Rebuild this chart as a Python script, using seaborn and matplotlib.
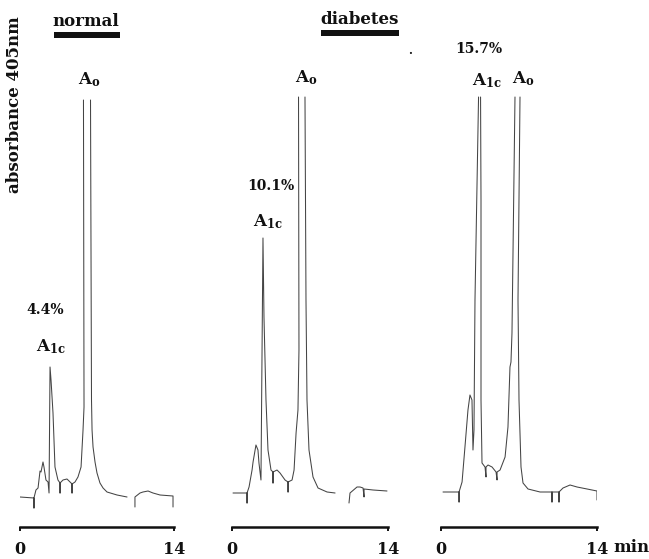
import numpy as np
import pandas as pd
import matplotlib
matplotlib.use("Agg")
import matplotlib.pyplot as plt
import seaborn as sns
from matplotlib.patches import Rectangle

# ---------------- data (time in min, recorder signal in arbitrary units) ----------------
# Panel 1: normal (A1c 4.4 %)
normal_t = [0.0, 1.27, 1.27, 1.27, 1.45, 1.64, 1.82, 1.91, 2.09, 2.18, 2.36, 2.55, 2.64, 2.73, 2.82,
            3.0, 3.18, 3.45, 3.64, 3.64, 3.64, 3.91, 4.27, 4.55, 4.73, 4.73, 4.73, 5.0, 5.27, 5.55,
            5.73, 5.82, 5.77,
            6.41, 6.5, 6.55, 6.64, 6.82, 7.0, 7.27, 7.55, 7.91, 8.82, 9.73,
            10.45, 10.45, 10.91, 11.18, 11.64, 12.09, 12.73, 13.91, 13.91]
normal_s = [3, 2, -8, 2, 10, 12, 29, 28, 38, 33, 20, 18, 7, 133, 120,
            87, 33, 20, 17, 7, 17, 20, 21, 18, 16, 7, 16, 18, 23, 33,
            70, 93, 400,
            400, 100, 70, 53, 38, 27, 17, 12, 8, 5, 3,
            -7, 3, 7, 8, 9, 7, 5, 4, -7]
normal_seg = [0] * 33 + [1] * 11 + [2] * 9

# Panel 2: diabetes (A1c 10.1 %)
diab1_t = [0.09, 1.35, 1.35, 1.35, 1.53, 1.80, 1.89, 2.15, 2.33, 2.42, 2.60, 2.78, 2.87, 3.05, 3.23,
           3.50, 3.68, 3.68, 3.68, 4.04, 4.31, 4.76, 5.03, 5.03, 5.03, 5.39, 5.57, 5.75, 5.92, 6.01,
           5.97,
           6.55, 6.64, 6.73, 6.91, 7.27, 7.72, 8.53, 9.25,
           10.50, 10.59, 11.22, 11.49, 11.76, 11.85, 11.85, 12.66, 13.91]
diab1_s = [7, 7, -3, 7, 13, 30, 38, 55, 50, 37, 20, 262, 183, 100, 50,
           30, 28, 17, 28, 30, 27, 20, 18, 8, 18, 20, 30, 67, 90, 150,
           403,
           403, 200, 100, 50, 23, 12, 8, 7,
           -3, 7, 13, 13, 12, 3, 11, 10, 9]
diab1_seg = [0] * 31 + [1] * 8 + [2] * 9

# Panel 3: diabetes (A1c 15.7 %)
diab2_t = [0.18, 1.62, 1.62, 1.62, 1.89, 2.15, 2.42, 2.60, 2.78, 2.87, 2.96, 3.05, 3.37,
           3.55, 3.59, 3.59, 3.68, 3.95, 4.04, 4.04, 4.22, 4.58, 4.94, 5.03, 5.03, 5.30, 5.75,
           6.01, 6.19, 6.28, 6.37, 6.64,
           7.09, 6.91, 7.0, 7.18, 7.36, 7.81, 8.89, 9.96, 9.96, 9.96, 10.59, 10.59, 10.59, 10.95,
           11.58, 12.21, 13.11, 14.0, 14.0]
diab2_s = [8, 8, -2, 8, 18, 53, 90, 105, 100, 50, 70, 200, 403,
           403, 300, 100, 37, 33, 23, 33, 35, 33, 28, 20, 28, 30, 43,
           73, 133, 138, 167, 403,
           403, 200, 100, 33, 17, 11, 8, 8, -2, 8, 8, -2, 8, 12,
           15, 13, 11, 9, 0]
diab2_seg = [0] * 13 + [1] * 19 + [2] * 19

x_ticks = [0, 14]
x_ticklabels = ["0", "14"]

# ---------------- figure ----------------
sns.set_style("white")
plt.rcParams["font.family"] = ["DejaVu Serif"]
plt.rcParams["mathtext.fontset"] = "custom"
plt.rcParams["mathtext.rm"] = "DejaVu Serif:bold"
plt.rcParams["mathtext.bf"] = "DejaVu Serif:bold"
plt.rcParams["mathtext.it"] = "DejaVu Serif:bold"

W, H = 649, 559
fig = plt.figure(figsize=(W / 100, H / 100), dpi=100)
fig.patch.set_facecolor("white")


def fx(px):
    return px / W


def fy(py):
    return 1 - py / H


panels = [
    (normal_t, normal_s, normal_seg, 20, 174),
    (diab1_t, diab1_s, diab1_seg, 232, 388),
    (diab2_t, diab2_s, diab2_seg, 441, 597),
]

axes = []
for t, s, seg, x0, x1 in panels:
    ax = fig.add_axes([fx(x0), fy(527), (x1 - x0) / W, 527 / H])
    df = pd.DataFrame({"t": t, "signal": s, "seg": seg})
    sns.lineplot(data=df, x="t", y="signal", units="seg", estimator=None, sort=False,
                 color="#444444", linewidth=0.75, ax=ax, legend=False)
    ax.set_xlim(0, 14)
    ax.set_ylim(-27, 500)
    ax.set_facecolor("none")
    for side in ["left", "top", "right"]:
        ax.spines[side].set_visible(False)
    ax.spines["bottom"].set_linewidth(1.8)
    ax.spines["bottom"].set_color("#111111")
    ax.set_yticks([])
    ax.set_xticks(x_ticks)
    ax.set_xticklabels(x_ticklabels, fontsize=11.5, fontweight="bold")
    ax.tick_params(axis="x", direction="out", length=3.2, width=1.4, pad=7.0,
                   colors="#111111", bottom=True)
    ax.set_xlabel("")
    ax.set_ylabel("")
    axes.append(ax)

bold = dict(fontweight="bold", color="#111111", ha="center", va="center")

# y label
fig.text(fx(15), fy(105), "absorbance 405nm", rotation=90, fontsize=12, **bold)

# group titles with underline bars
fig.text(fx(86), fy(21), "normal", fontsize=12, **bold)
fig.add_artist(Rectangle((fx(54), fy(38)), (120 - 54) / W, 6 / H, transform=fig.transFigure,
                         facecolor="#111111", edgecolor="none"))
fig.text(fx(360), fy(19), "diabetes", fontsize=12, **bold)
fig.add_artist(Rectangle((fx(321), fy(36)), (399 - 321) / W, 6 / H, transform=fig.transFigure,
                         facecolor="#111111", edgecolor="none"))
fig.text(fx(410), fy(50), ".", fontsize=8, **bold)

# peak labels
A0 = r"$\mathbf{A_{o}}$"
A1c = r"$\mathbf{A_{1c}}$"
fig.text(fx(89), fy(80), A0, fontsize=12, **bold)
fig.text(fx(45), fy(310), "4.4%", fontsize=10, **bold)
fig.text(fx(51), fy(347), A1c, fontsize=12, **bold)

fig.text(fx(306), fy(78), A0, fontsize=12, **bold)
fig.text(fx(271), fy(186), "10.1%", fontsize=10, **bold)
fig.text(fx(268), fy(222), A1c, fontsize=12, **bold)

fig.text(fx(479), fy(49), "15.7%", fontsize=10, **bold)
fig.text(fx(487), fy(81), A1c, fontsize=12, **bold)
fig.text(fx(523), fy(79), A0, fontsize=12, **bold)

fig.text(fx(613), fy(548), "min", fontsize=12, fontweight="bold", color="#111111",
         ha="left", va="center")

fig.savefig("out.png", dpi=100, facecolor="white")
